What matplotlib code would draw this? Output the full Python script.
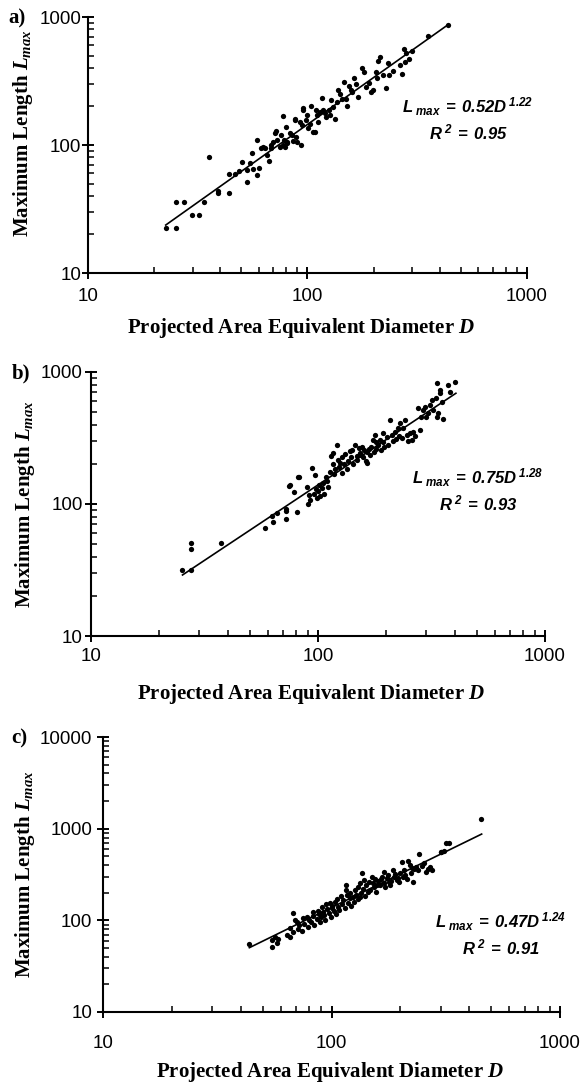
import matplotlib
matplotlib.use("Agg")
import matplotlib.pyplot as plt
from matplotlib.ticker import LogLocator, FuncFormatter, NullFormatter

plt.rcParams['mathtext.fontset'] = 'custom'
plt.rcParams['mathtext.rm'] = 'Liberation Serif:bold'
plt.rcParams['mathtext.it'] = 'Liberation Serif:italic:bold'
plt.rcParams['mathtext.sf'] = 'Liberation Sans:italic:bold'

# panel a) measured points (D, Lmax)
d_a = [22.6, 25.3, 25.3, 27.5, 29.9, 32.0, 33.9, 35.7, 39.3, 39.3, 43.9, 43.9, 46.9, 48.9,
       50.4, 53.0, 53.0, 54.5, 55.7, 56.3, 58.6, 58.6, 60.3, 61.3, 63, 64, 65.2, 66.5, 67.9,
       68, 70, 71, 71.9, 73, 75, 76, 77, 77.3, 78, 79, 80, 80.4, 81, 83, 85, 85.7, 87.6, 88,
       89, 90, 92, 93, 94, 95.6, 95.6, 98, 100, 101, 103, 104, 106, 108, 109, 110, 112, 114,
       117, 118, 120, 122, 125, 126, 128, 130, 133, 136, 137, 140, 143, 146, 150, 152, 155,
       158, 160, 163, 167, 170, 177, 180, 185, 190, 195, 198, 205, 207, 210, 214, 220, 228,
       233, 235, 245, 264, 270, 278, 281, 290, 299, 275, 355, 435]
l_a = [22.6, 22.6, 36, 36, 28.4, 28.4, 36, 81, 42, 44, 42, 59, 59, 63,
       73, 51, 64, 72, 87, 65, 109, 58, 66, 94, 97, 95, 84, 75, 94,
       100, 106, 123, 129, 110, 97, 120, 100, 169, 109, 96, 139, 106, 103, 125, 120, 108, 160, 157,
       115, 105, 152, 100, 143, 188, 195, 157, 171, 135, 145, 200, 127, 126, 188, 171, 150, 180,
       232, 188, 178, 165, 188, 171, 225, 198, 160, 218, 270, 250, 230, 312, 230, 200, 290,
       270, 260, 334, 300, 238, 398, 372, 285, 305, 260, 269, 374, 334, 453, 490, 350, 280,
       434, 352, 380, 422, 360, 448, 520, 470, 546, 560, 711, 866]

# panel b)
d_b = [25.1, 27.6, 27.6, 27.6, 37.3, 58.5, 62.4, 63.4, 65.8, 72.2, 72.2, 72.5, 74.7, 78.4,
       80.6, 82.6, 75, 82, 89, 90, 91, 92, 94, 96, 97, 98, 99, 100, 101, 102, 104, 105, 106,
       108, 110, 111, 113, 114, 116, 117, 118, 119, 121, 122, 124, 125, 127, 128, 130, 132,
       134, 136, 138, 140, 141, 143, 146, 148, 149, 151, 153, 154, 156, 158, 160, 162, 164,
       164, 167, 170, 172, 175, 176, 178, 180, 181, 184, 188, 190, 194, 194, 196, 201, 203,
       208, 211, 213, 218, 220, 226, 228, 230, 234, 238, 242, 246, 250, 254, 259, 263, 268,
       277, 281, 283, 289, 296, 300, 306, 311, 318, 322, 331, 333, 339, 345, 351, 355, 375,
       381, 402, 333, 345]
l_b = [31.6, 31.6, 45.4, 51, 51, 65.5, 81, 73.6, 86, 92, 88, 77, 137, 124,
       87, 159, 139, 161, 135, 100, 118, 108, 187, 120, 167, 130, 112, 125, 140, 115, 132, 144, 120,
       160, 150, 135, 175, 230, 242, 200, 168, 185, 280, 215, 190, 205, 172, 228, 200, 240,
       185, 210, 250, 226, 256, 200, 280, 232, 215, 264, 245, 235, 272, 228, 255, 210, 249,
       203, 262, 235, 272, 305, 246, 333, 260, 297, 280, 305, 255, 343, 297, 270, 324, 280,
       433, 333, 300, 353, 310, 374, 330, 408, 315, 374, 433, 333, 300, 343, 305, 353, 330,
       531, 363, 460, 516, 546, 460, 487, 562, 612, 516, 632, 459, 487, 690, 596, 440, 798,
       710, 845, 822, 730]

# panel c)
d_c = [43.7, 54.7, 54.7, 56.5, 58.5, 57.5, 63.6, 65.8, 66, 68, 69.2, 68.1, 70.4, 71.5, 72,
       74, 75, 76, 78, 79, 80, 81, 83, 83, 84, 86, 87, 88, 89, 90, 91, 92, 93, 94, 95, 96,
       98, 98.4, 99, 100, 101, 103, 104, 105, 106, 107, 108, 110, 111, 112, 114, 116, 116,
       117, 118, 120, 121, 122, 124, 125, 127, 128, 130, 131, 133, 133, 135, 136, 138, 139,
       140, 142, 144, 146, 148, 150, 152, 153, 155, 157, 158, 160, 163, 165, 166, 169, 170,
       172, 175, 177, 178, 180, 182, 185, 187, 190, 193, 195, 198, 200, 203, 205, 208, 210,
       214, 217, 220, 223, 226, 228, 230, 235, 240, 242, 248, 255, 260, 265, 270, 275, 302,
       300, 311, 318, 327, 450]
l_c = [54.7, 61, 51.5, 66, 63, 56, 69, 82, 66, 74, 101, 119, 97, 80, 88,
       77, 105, 92, 110, 85, 100, 95, 124, 112, 90, 104, 128, 118, 97, 108, 140, 124, 113, 101, 150, 132,
       120, 153, 110, 138, 145, 125, 160, 118, 170, 141, 130, 182, 150, 165, 135, 243, 214,
       189, 155, 175, 200, 145, 180, 160, 215, 190, 170, 230, 181, 253, 200, 330, 220, 275,
       185, 240, 205, 265, 215, 299, 253, 230, 280, 205, 245, 270, 240, 280, 299, 253, 340,
       232, 290, 310, 260, 240, 270, 350, 300, 320, 275, 290, 260, 330, 437, 300, 350, 310,
       280, 443, 400, 330, 370, 264, 360, 380, 350, 528, 390, 421, 336, 360, 380, 350, 557,
       556, 573, 703, 692, 1262]

# fitted lines (end points)
fit_a = ([22.6, 435], [23.7, 866])
fit_b = ([25.3, 405], [29, 690])
fit_c = ([43.7, 454], [50.3, 873])

eq_a = ("0.52", "1.22", "0.95")
eq_b = ("0.75", "1.28", "0.93")
eq_c = ("0.47", "1.24", "0.91")

W, H = 584, 1084
fig = plt.figure(figsize=(W / 100, H / 100), dpi=100)


def panel(box, D, L, fit, eq, ymax, letter, letter_x, eqpos, ylab_x, ylab_y, xlab_pos, xpad, ypad):
    left, top, right, bottom = box
    ax = fig.add_axes([left / W, 1 - bottom / H, (right - left) / W, (bottom - top) / H])
    ax.set_xscale('log')
    ax.set_yscale('log')
    ax.set_xlim(10, 1000)
    ax.set_ylim(10, ymax)
    ax.plot(fit[0], fit[1], '-', color='black', lw=1.2, zorder=2)
    ax.plot(D, L, 'o', color='black', markersize=3.8, markeredgewidth=0, zorder=3)
    for s in ['top', 'right']:
        ax.spines[s].set_visible(False)
    for s in ['left', 'bottom']:
        ax.spines[s].set_linewidth(1.5)
    fmt = FuncFormatter(lambda v, p: f"{v:g}")
    for axis in [ax.xaxis, ax.yaxis]:
        axis.set_major_locator(LogLocator(base=10, numticks=10))
        axis.set_minor_locator(LogLocator(base=10, subs=range(2, 10), numticks=10))
        axis.set_major_formatter(fmt)
        axis.set_minor_formatter(NullFormatter())
    ax.tick_params(which='major', direction='inout', length=9, width=1.4, labelsize=13.5)
    ax.tick_params(which='minor', direction='in', length=4, width=1.1)
    ax.tick_params(axis='x', which='major', pad=xpad)
    ax.tick_params(axis='y', which='major', pad=ypad)
    for t in ax.get_xticklabels() + ax.get_yticklabels():
        t.set_fontfamily('Liberation Sans')
    ax.set_ylabel(r"Maximum Length $L_{max}$", fontsize=15, fontweight='bold',
                  family='Liberation Serif')
    ax.yaxis.set_label_coords(ylab_x, ylab_y)
    ax.set_xlabel(r"Projected Area Equivalent Diameter $D$", fontsize=15, fontweight='bold',
                  family='Liberation Serif')
    ax.xaxis.set_label_coords(xlab_pos[0], xlab_pos[1])
    # equation text
    ex, ey = eqpos
    fig.text(ex / W, 1 - ey / H,
             r"$\mathsf{L_{\ max}\;=\;" + eq[0] + r"D^{\ " + eq[1] + r"}}$",
             ha='center', va='center', fontsize=12)
    fig.text(ex / W, 1 - (ey + 26) / H,
             r"$\mathsf{R^{\ 2}\;=\;" + eq[2] + r"}$",
             ha='center', va='center', fontsize=12)
    fig.text(letter_x / W, 1 - (top + 1) / H, letter, ha='left', va='center',
             fontsize=15, fontweight='bold', family='Liberation Serif')
    return ax


panel((88, 17, 527, 273), d_a, l_a, fit_a, eq_a, 1000, 'a)', 8, (468, 107),
      -0.121, 0.547, (0.485, -0.168), 6, 0.3)
panel((91, 372, 545, 636), d_b, l_b, fit_b, eq_b, 1000, 'b)', 12, (478, 478),
      -0.119, 0.5, (0.485, -0.174), 4, 1.5)
panel((103, 737, 560, 1012), d_c, l_c, fit_c, eq_c, 10000, 'c)', 11, (501, 922),
      -0.144, 0.5, (0.497, -0.175), 12, 3.2)

fig.savefig("out.png", dpi=100)
